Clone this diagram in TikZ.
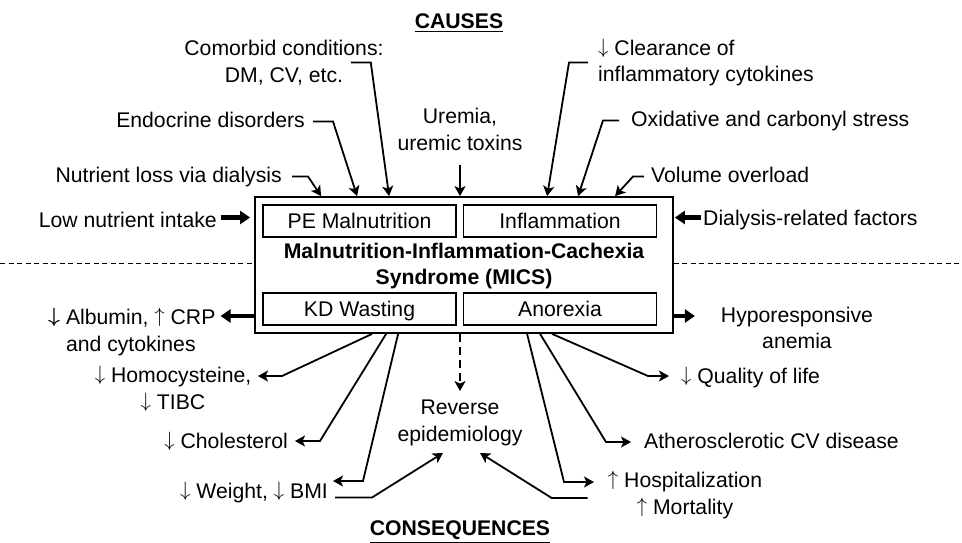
\documentclass[tikz,border=0pt]{standalone}
\usepackage{amsmath}
\usepackage{fontspec}
\setmainfont{Liberation Sans}
\usetikzlibrary{arrows.meta}
\newcommand{\labelfont}{\fontsize{21.2pt}{26.5pt}\selectfont}
\newcommand{\arrdown}{\raisebox{2pt}{$\downarrow$}}
\newcommand{\arrup}{\raisebox{2pt}{$\uparrow$}}
\newcommand{\arrbold}{\raisebox{2pt}{$\boldsymbol{\downarrow}$}}

\begin{document}
\begin{tikzpicture}[x=1pt, y=-1pt,
    every node/.style={font=\labelfont, inner sep=0pt},
    lbl/.style={text height=15pt, text depth=4pt},
    lbls/.style={align=center},
    subbox/.style={draw, line width=1.3pt, minimum width=193pt, minimum height=32pt, text height=15pt, text depth=1pt},
    arr/.style={line width=1.8pt, -{Stealth[length=10pt,width=11pt,inset=2.5pt]}},
    bigarr/.style={line width=4.5pt, -{Triangle[length=10pt,width=13pt]}},
    sep/.style={line width=0.9pt, dash pattern=on 5pt off 3.5pt}]
    \useasboundingbox (0,0) rectangle (962,542);

    \node[draw, line width=1.8pt, minimum width=418pt, minimum height=136pt] (mics) at (464,265) {};
    \node[lbls, font=\labelfont\bfseries] (title) at (464,266) {Malnutrition-Inflammation-Cachexia\\Syndrome (MICS)};
    \node[subbox] (pe) at (359.5,221) {PE Malnutrition};
    \node[subbox] (infl) at (560,221) {Inflammation};
    \node[subbox] (kd) at (359.5,309) {KD Wasting};
    \node[subbox] (anor) at (560,309) {Anorexia};

    \node[lbl, anchor=base] (causes) at (459,28) {\bfseries\underline{CAUSES}};
    \node[lbls] (comorb) at (284,62.5) {Comorbid conditions:\\DM, CV, etc.};
    \node[lbl, anchor=base east] (endo) at (305,127) {Endocrine disorders};
    \node[lbl, anchor=base east] (nutr) at (282,182) {Nutrient loss via dialysis};
    \node[lbl, anchor=base east] (low) at (217,227) {Low nutrient intake};
    \node[lbls] (urem) at (460,129.5) {Uremia,\\uremic toxins};
    \node[align=left, anchor=west] (clear) at (598,62.5) {\arrdown{} Clearance of\\inflammatory cytokines};
    \node[lbl, anchor=base west] (oxid) at (631,126) {Oxidative and carbonyl stress};
    \node[lbl, anchor=base west] (vol) at (651,182) {Volume overload};
    \node[lbl, anchor=base west] (dial) at (703,225) {Dialysis-related factors};

    \node[align=left, anchor=west] (alb) at (48,332) {\arrbold{} Albumin, \arrup{} CRP\\\phantom{\arrbold{} }and cytokines};
    \node[lbls] (homo) at (173,389) {\arrdown{} Homocysteine,\\\arrdown{} TIBC};
    \node[lbl, anchor=base east] (chol) at (288,448) {\arrdown{} Cholesterol};
    \node[lbl, anchor=base east] (wt) at (328,498) {\arrdown{} Weight, \arrdown{} BMI};
    \node[lbls] (rev) at (460,423) {Reverse\\epidemiology};
    \node[lbls] (hypo) at (797,328) {Hyporesponsive\\anemia};
    \node[lbl, anchor=base west] (qol) at (681,383) {\arrdown{} Quality of life};
    \node[lbl, anchor=base west] (athe) at (644,448) {Atherosclerotic CV disease};
    \node[lbls] (hosp) at (685,495) {\arrup{} Hospitalization\\\arrup{} Mortality};
    \node[lbl, anchor=base] (cons) at (460,535) {\bfseries\underline{CONSEQUENCES}};

    \draw[sep] (0,263) -- (mics.west |- 0,263);
    \draw[sep] (mics.east |- 0,263) -- (962,263);

    \draw[arr] ([xshift=10pt]nutr.east) -- ++(16,0) -- ([xshift=67pt]mics.north west);
    \draw[arr] ([xshift=8pt]endo.east) -- ++(20,0) -- ([xshift=103pt]mics.north west);
    \draw[arr] ([xshift=-33pt]comorb.east) -- ++(20,0) -- ([xshift=135pt]mics.north west);
    \draw[arr] ([yshift=-14pt]urem.south) -- (urem.south |- mics.north);
    \draw[arr] ([xshift=-10pt]clear.west) -- ++(-19,0) -- ([xshift=293pt]mics.north west);
    \draw[arr] ([xshift=-12pt]oxid.west) -- ++(-16,0) -- ([xshift=324pt]mics.north west);
    \draw[arr] ([xshift=-7pt]vol.west) -- ++(-11,0) -- ([xshift=361pt]mics.north west);
    \draw[bigarr, shorten >=4pt] ([xshift=4pt,yshift=4pt]low.east) -- ([yshift=4pt]low.east -| mics.west);
    \draw[bigarr, shorten >=1pt] ([xshift=-2pt,yshift=2pt]dial.west) -- ([yshift=2pt]dial.west -| mics.east);

    \coordinate (hb) at (282,376);
    \coordinate (cb) at (320,441);
    \coordinate (wb) at (363,481);
    \coordinate (qb) at (648,376);
    \coordinate (ab) at (606,442);
    \coordinate (sb) at (564,482);
    \draw[bigarr, shorten >=5pt] ([yshift=-51pt]mics.west) -- ([yshift=-51pt]mics.west -| alb.east);
    \draw[bigarr] ([yshift=-51pt]mics.east) -- ++(21,0);
    \draw[arr] ([xshift=118pt]mics.south west) -- (hb) -- ++(-24,0);
    \draw[arr] ([xshift=132pt]mics.south west) -- (cb) -- ++(-25,0);
    \draw[arr] ([xshift=144pt]mics.south west) -- (wb) -- ++(-30,0);
    \draw[arr] ([xshift=298pt]mics.south west) -- (qb) -- ++(21,0);
    \draw[arr] ([xshift=286pt]mics.south west) -- (ab) -- ++(25,0);
    \draw[arr] ([xshift=273pt]mics.south west) -- (sb) -- ++(30,0);
    \draw[arr, dash pattern=on 8pt off 5pt, shorten >=9pt] (rev.north |- mics.south) -- (rev.north);
    \draw[arr] ([xshift=7pt,yshift=-5pt]wt.east) -- ++(37,0) -- ([xshift=-17pt,yshift=-7pt]rev.south);
    \draw[arr] ([xshift=-20pt,yshift=-3pt]hosp.west) -- ++(-36,0) -- ([xshift=20pt,yshift=-7pt]rev.south);
\end{tikzpicture}
\end{document}
